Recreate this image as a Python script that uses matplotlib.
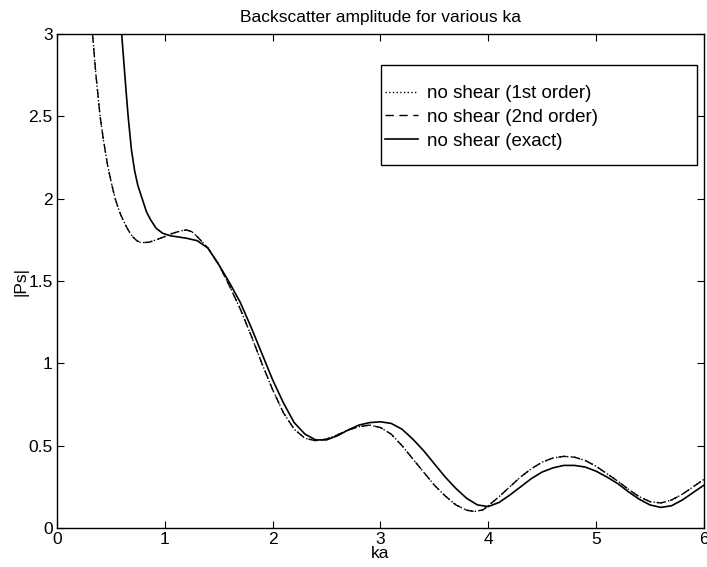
import matplotlib
matplotlib.use("Agg")
from matplotlib import pyplot as plt
from matplotlib.patches import Rectangle

plt.rcParams['font.family'] = ['Liberation Sans', 'DejaVu Sans']

# exact solution
ka_exact = [0.60, 0.62, 0.64, 0.66, 0.69, 0.72, 0.75, 0.79, 0.83, 0.87, 0.92, 0.98, 1.05, 1.1, 1.2,
            1.3, 1.4, 1.5, 1.6, 1.7, 1.8, 1.9, 2.0, 2.1, 2.2, 2.3, 2.4, 2.5, 2.6, 2.7,
            2.8, 2.9, 3.0, 3.1, 3.2, 3.3, 3.4, 3.5, 3.6, 3.7, 3.8, 3.9, 4.0, 4.1, 4.2,
            4.3, 4.4, 4.5, 4.6, 4.7, 4.8, 4.9, 5.0, 5.1, 5.2, 5.3, 5.4, 5.5, 5.6, 5.7,
            5.8, 5.9, 6.0]
ps_exact = [3.0, 2.83, 2.66, 2.5, 2.3, 2.17, 2.08, 2.0, 1.92, 1.87, 1.82, 1.79, 1.775, 1.77, 1.76,
            1.745, 1.70, 1.60, 1.49, 1.37, 1.22, 1.06, 0.90, 0.76, 0.64, 0.57, 0.535, 0.535, 0.56, 0.595,
            0.625, 0.64, 0.645, 0.635, 0.60, 0.54, 0.47, 0.39, 0.31, 0.24, 0.18, 0.14, 0.13, 0.155, 0.20,
            0.25, 0.30, 0.34, 0.365, 0.38, 0.38, 0.37, 0.345, 0.31, 0.27, 0.22, 0.175, 0.14, 0.125, 0.135,
            0.17, 0.215, 0.26]

# 1st / 2nd order approximations (drawn on top of each other)
ka_approx = [0.33, 0.36, 0.40, 0.43, 0.47, 0.51, 0.54, 0.58, 0.62, 0.66, 0.70, 0.74, 0.78, 0.85, 0.92,
             1.0, 1.05, 1.15, 1.2, 1.25, 1.3, 1.4, 1.5, 1.6, 1.7, 1.8, 1.9, 2.0, 2.1, 2.2,
             2.3, 2.4, 2.5, 2.6, 2.7, 2.8, 2.9, 3.0, 3.1, 3.2, 3.3, 3.4, 3.5, 3.6, 3.7,
             3.8, 3.87, 3.95, 4.0, 4.1, 4.2, 4.3, 4.4, 4.5, 4.6, 4.7, 4.8, 4.9, 5.0, 5.1,
             5.2, 5.3, 5.4, 5.5, 5.6, 5.7, 5.8, 5.9, 6.0]
ps_2nd = [3.0, 2.76, 2.5, 2.36, 2.2, 2.08, 2.0, 1.92, 1.86, 1.81, 1.77, 1.745, 1.733, 1.735, 1.75,
          1.77, 1.785, 1.805, 1.81, 1.80, 1.77, 1.70, 1.60, 1.47, 1.33, 1.17, 1.0, 0.84, 0.70, 0.60,
          0.545, 0.53, 0.54, 0.565, 0.595, 0.615, 0.625, 0.61, 0.57, 0.50, 0.42, 0.34, 0.26, 0.195, 0.14,
          0.108, 0.10, 0.11, 0.135, 0.19, 0.25, 0.31, 0.36, 0.40, 0.425, 0.435, 0.43, 0.41, 0.375, 0.33,
          0.285, 0.235, 0.19, 0.16, 0.152, 0.17, 0.205, 0.25, 0.295]
ps_1st = list(ps_2nd)

fig = plt.figure(figsize=(7.07, 5.67), dpi=100)
ax = fig.add_axes([0.0806, 0.0688, 0.915, 0.8712])

ax.plot(ka_approx, ps_1st, color='k', linestyle=':', linewidth=1.0, label='no shear (1st order)')
ax.plot(ka_approx, ps_2nd, color='k', linestyle=(0, (6, 4)), linewidth=1.0, label='no shear (2nd order)')
ax.plot(ka_exact, ps_exact, color='k', linestyle='-', linewidth=1.2, label='no shear (exact)')

ax.set_xlim(0, 6)
ax.set_ylim(0, 3)
ax.set_xticks([0, 1, 2, 3, 4, 5, 6])
ax.set_yticks([0, 0.5, 1, 1.5, 2, 2.5, 3])
ax.set_yticklabels(['0', '0.5', '1', '1.5', '2', '2.5', '3'])
ax.tick_params(direction='in', top=True, right=True, length=5, labelsize=12.5, pad=3)
for s in ax.spines.values():
    s.set_linewidth(1.0)

ax.set_title('Backscatter amplitude for various ka', fontsize=12.5, pad=9)
ax.set_xlabel('ka', fontsize=12.5, labelpad=-1)
ax.set_ylabel('|Ps|', fontsize=12.5, labelpad=0)

# MATLAB style legend: wide box drawn separately, entries without a frame
box = Rectangle((381 / 707, 1 - 165 / 567), 316 / 707, 100 / 567,
                transform=fig.transFigure, facecolor='white',
                edgecolor='k', linewidth=1.0, zorder=5, clip_on=False)
ax.add_patch(box)
leg = ax.legend(loc='upper left', bbox_to_anchor=(385 / 707, 1 - 85 / 567),
                bbox_transform=fig.transFigure, borderaxespad=0, borderpad=0,
                fontsize=13.5, frameon=False, handlelength=1.75,
                handletextpad=0.5, labelspacing=0.36)
leg.set_zorder(6)

fig.savefig('out.png', dpi=100)
